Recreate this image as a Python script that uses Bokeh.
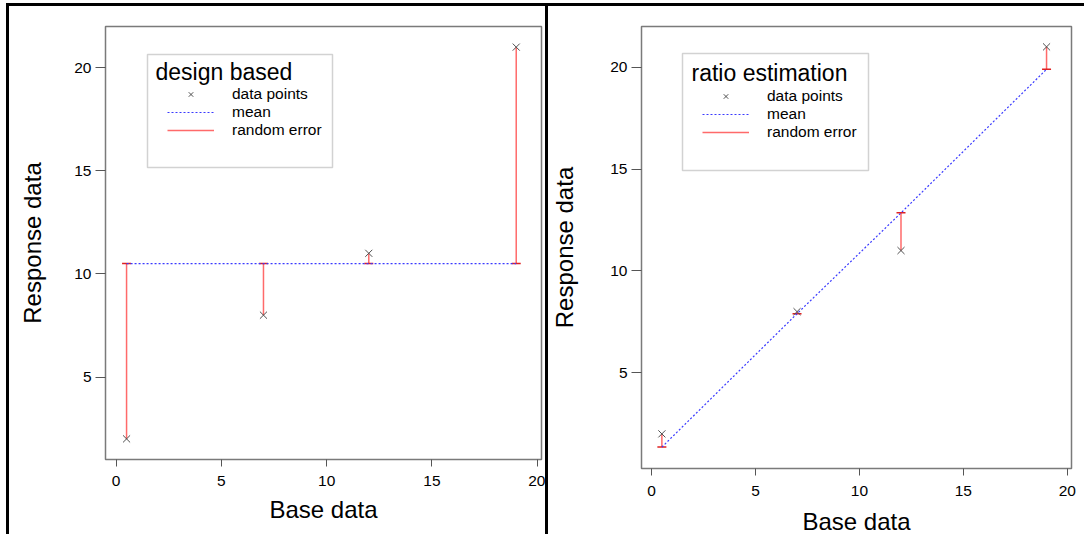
from bokeh.plotting import figure
from bokeh.layouts import row
from bokeh.models import Range1d, FixedTicker, Legend, LegendItem, BoxAnnotation, Label
from bokeh.embed import file_html
from bokeh.resources import INLINE

# ---- data ----
base = [0.5, 7, 12, 19]
response = [2, 8, 11, 21]
design_mean = [10.5, 10.5, 10.5, 10.5]
ratio_mean = [1.35, 7.9, 12.85, 19.9]
x_ticks = [0, 5, 10, 15, 20]
y_ticks = [5, 10, 15, 20]
titles = ["design based", "ratio estimation"]
labels = ["data points", "mean", "random error"]
x_title = "Base data"
y_title = "Response data"

FONT = "Liberation Sans"


def make_panel(mean, title, xr, yr, width, height, mbl, mbr, mbt, mbb, fw, fh,
               styles, box, leg_loc, title_pos, title_size, xstand, xlstand, ylstand):
    p = figure(width=width, height=height, x_range=Range1d(*xr), y_range=Range1d(*yr),
               output_backend="svg", toolbar_location=None,
               min_border_left=mbl, min_border_right=mbr, min_border_top=mbt,
               min_border_bottom=mbb, frame_width=fw, frame_height=fh,
               styles=styles)
    p.xgrid.visible = False
    p.ygrid.visible = False
    p.outline_line_color = "#7a7a7a"
    p.outline_line_width = 1.5
    p.background_fill_color = "white"
    p.border_fill_color = "white"

    for ax in (p.xaxis[0], p.yaxis[0]):
        ax.axis_line_color = None
        ax.major_tick_in = 0
        ax.minor_tick_line_color = None
        ax.major_tick_line_color = "#555555"
        ax.major_label_text_font = FONT
        ax.major_label_text_font_size = "15.5px"
        ax.major_label_text_color = "black"
        ax.axis_label_text_font = FONT
        ax.axis_label_text_font_size = "24px"
        ax.axis_label_text_font_style = "normal"
        ax.axis_label_text_color = "black"
    p.xaxis.ticker = FixedTicker(ticks=x_ticks)
    p.yaxis.ticker = FixedTicker(ticks=y_ticks)
    p.xaxis.major_tick_out = 7
    p.yaxis.major_tick_out = 10
    p.xaxis.major_label_standoff = xstand
    p.yaxis.major_label_standoff = 4
    p.xaxis.axis_label_standoff = xlstand
    p.yaxis.axis_label_standoff = ylstand
    p.yaxis.major_label_orientation = "horizontal"
    p.xaxis.axis_label = x_title
    p.yaxis.axis_label = y_title

    # error bars
    err = p.segment(x0=base, y0=response, x1=base, y1=mean,
                    line_color="#ff6a6a", line_width=1.5)
    p.scatter(x=base, y=mean, marker="dash", size=9, line_color="#e02020", line_width=1.5)
    # mean line
    mline = p.line(x=base, y=mean, line_color="#3a3aff", line_width=1.2, line_dash="2 2")
    # data points
    pts = p.scatter(x=base, y=response, marker="x", size=10, line_color="#505050", line_width=1)

    # legend box
    p.add_layout(BoxAnnotation(left=box[0], right=box[1], bottom=box[2], top=box[3],
                               left_units="screen", right_units="screen",
                               bottom_units="screen", top_units="screen",
                               fill_color="white", fill_alpha=1.0,
                               line_color="#6a6a6a", line_width=1.5))
    p.add_layout(Label(x=title_pos[0], y=title_pos[1], x_units="screen", y_units="screen",
                       text=title, text_font=FONT, text_font_size=title_size,
                       text_baseline="alphabetic", text_color="black"))
    leg = Legend(items=[LegendItem(label=labels[0], renderers=[pts]),
                        LegendItem(label=labels[1], renderers=[mline]),
                        LegendItem(label=labels[2], renderers=[err])],
                 location=leg_loc, padding=0, margin=0, spacing=0,
                 glyph_width=47, glyph_height=16, label_height=16,
                 label_standoff=18, label_text_font=FONT,
                 label_text_font_size="15.5px", label_text_color="black",
                 border_line_color=None, background_fill_alpha=0.0)
    p.add_layout(leg)
    return p


left = make_panel(design_mean, titles[0], (-0.5, 20.2), (1.0, 22.0),
                  536, 528, 96, 10, 20, 78, 430, 430,
                  styles={"border-left": "3px solid black", "border-top": "3px solid black",
                          "border-right": "3px solid black"},
                  box=(42, 227, 292, 405), leg_loc=(62, 320), title_pos=(50, 388),
                  title_size="23px", xstand=9, xlstand=7, ylstand=25)
right = make_panel(ratio_mean, titles[1], (-0.48, 20.2), (0.3, 22.0),
                   536, 528, 93, 13, 20, 69, 430, 439,
                   styles={"border-top": "3px solid black"},
                   box=(41, 227, 298, 415), leg_loc=(61, 327), title_pos=(50, 396),
                   title_size="23px", xstand=10, xlstand=9, ylstand=29)

layout = row(left, right, styles={"margin-top": "3px", "margin-left": "6px"})

open("out.html", "w").write(file_html(layout, INLINE))
